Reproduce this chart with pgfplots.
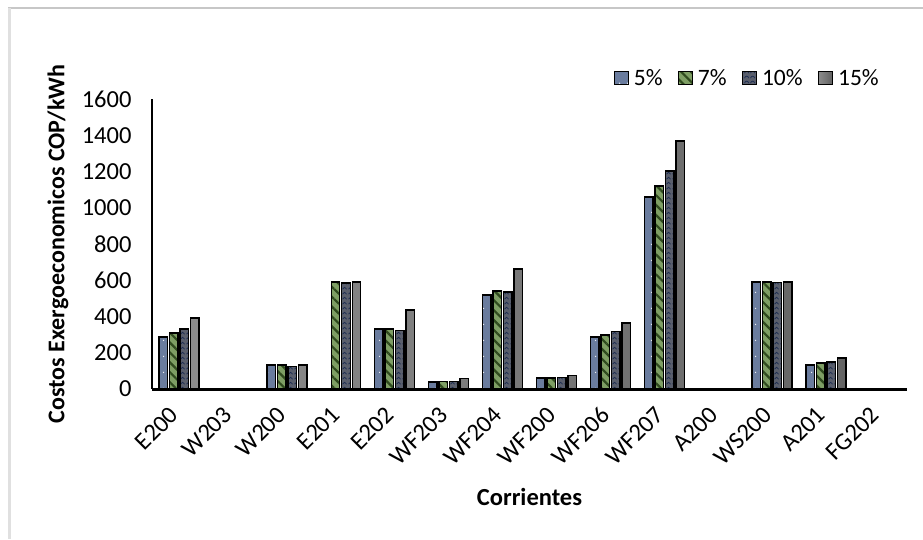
\documentclass[border=0pt]{standalone}
\usepackage{pgfplots}
\pgfplotsset{compat=1.18}
\usepackage{fontspec}
\setmainfont{Carlito}
\usetikzlibrary{patterns.meta}
\definecolor{cblue}{HTML}{6A7C9E}
\definecolor{cgreen}{HTML}{7E9E64}
\definecolor{cgreendark}{HTML}{2F4A1E}
\definecolor{cdgray}{HTML}{5A5F6C}
\definecolor{cnavy}{HTML}{1E2E52}
\pgfdeclarepattern{
  name=mywaves,
  type=uncolored,
  bottom left={\pgfpoint{0pt}{0pt}},
  top right={\pgfpoint{6pt}{5pt}},
  tile size={\pgfpoint{6pt}{5pt}},
  code={
    \pgfsetlinewidth{0.9pt}
    \pgfpathmoveto{\pgfpoint{0.6pt}{1pt}}
    \pgfpathcurveto{\pgfpoint{1.6pt}{4pt}}{\pgfpoint{4.4pt}{4pt}}{\pgfpoint{5.4pt}{1pt}}
    \pgfusepath{stroke}
  }
}
\pgfdeclarepattern{
  name=mydots,
  type=uncolored,
  bottom left={\pgfpoint{0pt}{0pt}},
  top right={\pgfpoint{8pt}{16pt}},
  tile size={\pgfpoint{8pt}{16pt}},
  code={
    \pgfpathcircle{\pgfpoint{4pt}{8pt}}{0.8pt}
    \pgfusepath{fill}
  }
}
\pgfplotstableread{
x  a    b    c    d
0  287  309  331  392
1  0    0    0    0
2  132  132  125  132
3  0    590  585  590
4  330  330  322  436
5  38   42   42   58
6  519  541  535  662
7  60   60   62   75
8  287  298  318  364
9  1059 1120 1203 1368
10 0    0    0    0
11 590  590  588  590
12 132  143  148  171
13 0    0    0    0
}\datatable
\begin{document}
\begin{tikzpicture}
\useasboundingbox (0,0) rectangle (923pt,539pt);
\fill[white] (0,0) rectangle (923pt,539pt);
\draw[color=black!22, line width=1.5pt] (8pt,531pt) -- (923pt,531pt);
\draw[color=black!12, line width=3pt] (9.5pt,531pt) -- (9.5pt,0pt);
\begin{axis}[
  at={(152pt,150pt)}, anchor=south west,
  scale only axis, width=755pt, height=290pt,
  font=\fontsize{24.5}{28}\selectfont,
  /pgf/number format/assume math mode=true,
  /pgf/number format/1000 sep={},
  ybar=2pt, bar width=8.5pt,
  xmin=-0.5, xmax=13.5, ymin=0, ymax=1600,
  ytick={0,200,...,1600},
  xtick={0,...,13},
  xticklabels={E200,W203,W200,E201,E202,WF203,WF204,WF200,WF206,WF207,A200,WS200,A201,FG202},
  axis lines=left,
  axis line style={-},
  x axis line style={line width=3pt},
  y axis line style={line width=1.3pt},
  major tick length=0pt,
  yticklabel style={xshift=-17pt},
  xticklabel style={rotate=45, anchor=north east, inner sep=0pt, xshift=-18.8pt, yshift=-3.8pt},
  every axis y label/.style={at={(axis description cs:-0.1245,0.5)}, rotate=90, anchor=center, font=\fontsize{24}{28}\selectfont\bfseries},
  every axis x label/.style={at={(axis description cs:0.5,-0.372)}, anchor=center, font=\fontsize{24.5}{28}\selectfont\bfseries},
  ylabel={Costos Exergoeconomicos COP/kWh},
  xlabel={Corrientes},
  legend columns=4,
  legend style={at={(axis description cs:0.599,1.072)}, anchor=west, draw=none, fill=none,
    font=\fontsize{23.5}{27}\selectfont},
  legend image code/.code={\draw[#1, line width=1.3pt] (0pt,-6.5pt) rectangle (14pt,6.5pt); \path (-6pt,0pt) (17pt,0pt);},
  every axis plot/.append style={draw=black, line width=1.4pt},
]
\addplot[fill=cblue, postaction={pattern=mydots, pattern color=white!85!cblue}] table[x=x,y=a]{\datatable};
\addplot[fill=cgreen, postaction={pattern={Lines[angle=-45,distance=7pt,line width=2.2pt]}, pattern color=cgreendark}] table[x=x,y=b]{\datatable};
\addplot[fill=cdgray, postaction={pattern=mywaves, pattern color=cnavy}] table[x=x,y=c]{\datatable};
\addplot[left color=black!45, right color=black!62] table[x=x,y=d]{\datatable};
\legend{5\%\hspace*{7pt},7\%\hspace*{7pt},10\%\hspace*{7pt},15\%}
\end{axis}
\end{tikzpicture}
\end{document}
